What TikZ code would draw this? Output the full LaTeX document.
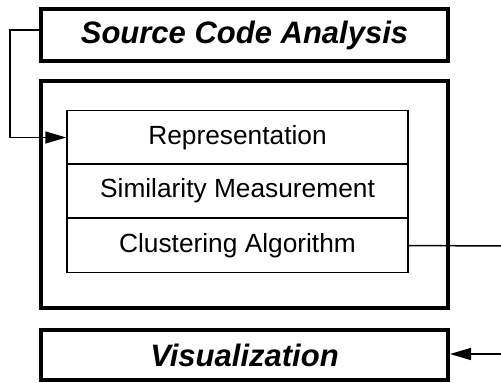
\documentclass[tikz,border=0pt]{standalone}
\usepackage{fontspec}
\setmainfont{Liberation Sans}
\usetikzlibrary{arrows.meta}
\begin{document}
\begin{tikzpicture}[x=1pt,y=-1pt,
  thickbox/.style={draw,line width=4pt,inner sep=0pt,outer sep=2pt,minimum width=407pt,font=\fontsize{31}{35}\selectfont\bfseries\itshape},
  bigbox/.style={draw,line width=4pt,inner sep=0pt,outer sep=2pt,minimum width=407pt,minimum height=227pt},
  rowbox/.style={draw,line width=1.5pt,inner sep=0pt,outer sep=0.75pt,minimum width=341pt,minimum height=54pt,font=\fontsize{26.3}{30}\selectfont},
  conn/.style={line width=1.5pt},
  tip/.style={-{Triangle[length=21pt,width=12pt]}}]
\useasboundingbox (0,0) rectangle (501,383);
\node[thickbox,minimum height=52pt] (src) at (244.5,35) {Source Code Analysis};
\node[bigbox] (core) at (244.5,194.5) {};
\node[rowbox] (rep) at (237.5,137.5) {Representation};
\node[rowbox] (sim) at (237.5,191) {Similarity Measurement};
\node[rowbox] (clu) at (237.5,245.5) {Clustering Algorithm};
\node[thickbox,minimum height=50pt] (vis) at (244.5,355) {Visualization};
\coordinate (outA) at (503,246);
\coordinate (inB) at (503,354);
\draw[conn,tip] ([yshift=5pt]src.west) -- (10,30) |- (rep.west);
\draw[conn] (clu.east) -- (outA);
\draw[conn,tip] (inB) -- (inB -| vis.east);
\end{tikzpicture}
\end{document}
